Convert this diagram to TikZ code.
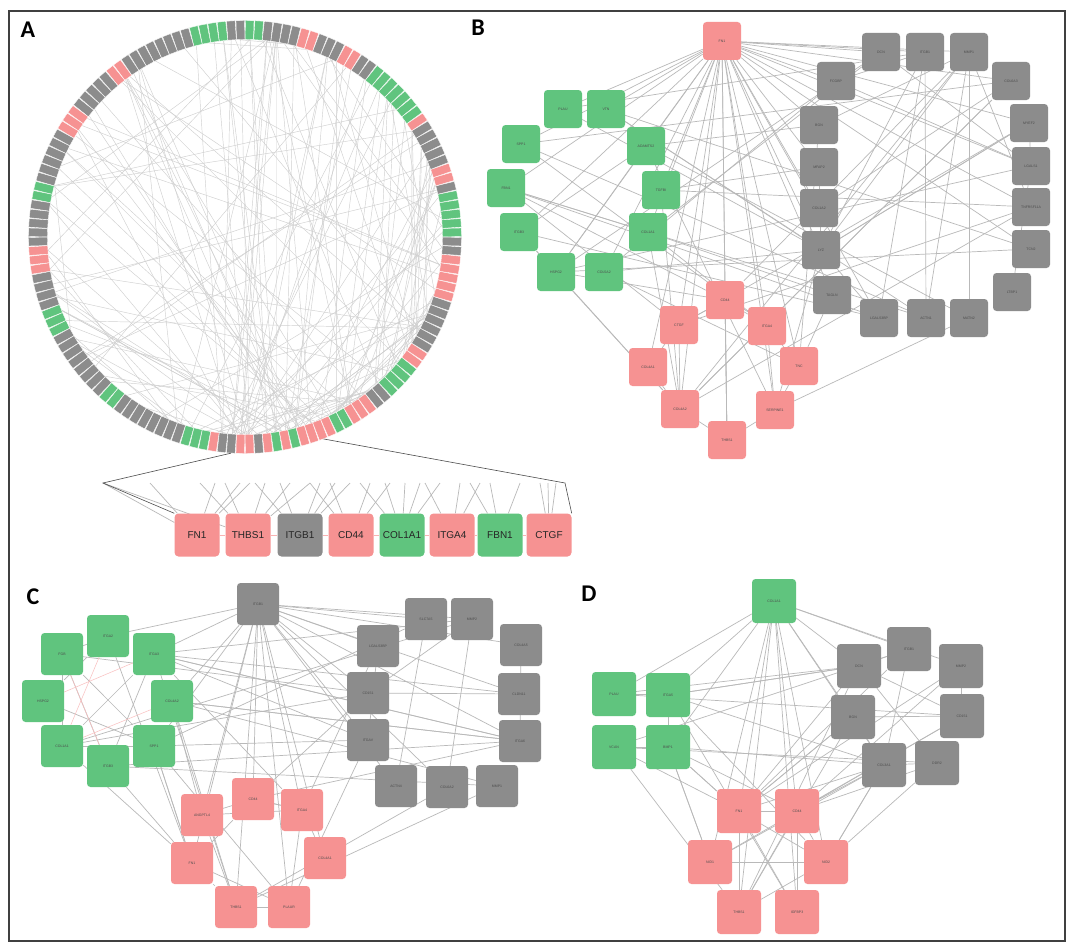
\documentclass[tikz,border=0pt]{standalone}
\usepackage{fontspec}
\setmainfont{Liberation Sans}
\newfontfamily\panelfont{Carlito}
\usetikzlibrary{backgrounds}
\definecolor{gnode}{RGB}{96,196,126}
\definecolor{pnode}{RGB}{246,146,146}
\definecolor{ynode}{RGB}{140,140,140}
\definecolor{edgeg}{RGB}{185,185,185}
\definecolor{edgea}{RGB}{208,208,208}
\pgfdeclarelayer{paper}
\pgfsetlayers{paper,background,main}
\tikzset{
  gene/.style={rectangle, rounded corners=3.5pt, minimum size=#1, inner sep=0pt,
    font=\fontsize{3.5}{4}\selectfont, text=black!70},
  gene/.default=38pt,
  ringbox/.style={rectangle, minimum width=19pt, minimum height=8.5pt, inner sep=0pt,
    draw=white, line width=0.35pt},
  netedge/.style={draw=edgeg, line width=0.7pt},
  ringedge/.style={draw=edgea, line width=0.45pt},
  stripbox/.style={rectangle, rounded corners=4pt, minimum width=45pt, minimum height=43pt,
    inner sep=0pt, font=\fontsize{10}{12}\selectfont, text=black!85},
  panellabel/.style={font=\panelfont\bfseries\fontsize{24}{24}\selectfont, inner sep=0pt},
  zoomline/.style={draw=black!70, line width=0.6pt}
}
\begin{document}
\begin{tikzpicture}[x=1pt,y=-1pt]
\useasboundingbox (0,0) rectangle (1070,942);
\begin{pgfonlayer}{paper}
  \fill[white] (0,0) rectangle (1070,942);
\end{pgfonlayer}

% ---------------- Panel A: circular network ----------------
\foreach \s/\e/\c in {0/4/gnode, 5/5/ynode, 6/7/pnode, 8/12/ynode, 13/13/pnode, 14/20/gnode,
  21/22/ynode, 23/24/pnode, 25/27/ynode, 28/29/pnode, 30/33/ynode, 34/35/gnode, 36/37/ynode,
  38/41/gnode, 42/49/ynode, 50/51/pnode, 52/56/ynode, 57/59/pnode, 60/65/ynode, 66/67/gnode,
  68/72/ynode, 73/75/pnode, 76/79/ynode, 80/82/gnode, 83/90/ynode, 91/92/gnode, 93/100/ynode,
  101/103/gnode, 104/104/pnode, 105/106/ynode, 107/108/pnode, 109/109/ynode, 110/110/pnode,
  111/111/gnode, 112/112/pnode, 113/113/gnode, 114/117/pnode, 118/119/gnode, 120/122/pnode,
  123/124/ynode, 125/128/gnode, 129/130/pnode, 131/136/ynode, 137/141/pnode, 142/143/ynode}{
  \foreach \i in {\s,...,\e}{
    \pgfmathsetmacro\ang{\i*2.5+1.25}
    \node[ringbox, fill=\c, rotate=\ang] (a\i) at ({245+207*cos(\ang)},{237-207*sin(\ang)}) {};
  }
}
\begin{pgfonlayer}{background}
  \pgfmathsetseed{11}
  \foreach \k in {1,...,85}{
    \pgfmathtruncatemacro\u{random(100,140)}
    \pgfmathtruncatemacro\v{random(0,143)}
    \draw[ringedge] (a\u) -- (a\v);
  }
  \foreach \k in {1,...,40}{
    \pgfmathtruncatemacro\u{random(105,116)}
    \pgfmathtruncatemacro\v{random(0,143)}
    \draw[ringedge] (a\u) -- (a\v);
  }
  \foreach \k in {1,...,30}{
    \pgfmathtruncatemacro\u{random(0,40)}
    \pgfmathtruncatemacro\v{random(60,143)}
    \draw[ringedge] (a\u) -- (a\v);
  }
  \foreach \k in {1,...,14}{
    \pgfmathtruncatemacro\u{random(0,143)}
    \pgfmathtruncatemacro\v{random(0,143)}
    \draw[ringedge] (a\u) -- (a\v);
  }
\end{pgfonlayer}

% enlarged strip of the lower arc
\foreach \n/\x/\c/\t in {1/197/pnode/FN1, 2/248/pnode/THBS1, 3/300/ynode/ITGB1, 4/351/pnode/CD44,
  5/402/gnode/COL1A1, 6/452/pnode/ITGA4, 7/500/gnode/FBN1, 8/549/pnode/CTGF}{
  \node[stripbox, fill=\c] (s\n) at (\x,535) {\t};
}
\coordinate (zl) at (103,483);
\coordinate (zr) at (565,483);
\begin{pgfonlayer}{background}
  \foreach \a/\b in {1/2,2/3,3/4,4/5,5/6,6/7,7/8}{
    \draw[draw=pnode!70, line width=0.5pt] (s\a) -- (s\b);
  }
  \foreach \n/\xt [count=\k] in {1/150, 1/215, 1/250, 1/240, 2/200, 2/225, 2/265, 2/290, 2/310,
    3/255, 3/280, 3/320, 3/335, 3/350, 4/310, 4/330, 4/370, 4/390, 5/360, 5/385, 5/405, 5/420,
    5/440, 6/425, 6/460, 6/480, 7/470, 7/490, 7/520, 8/540, 8/548, 8/556}{
    \coordinate (st\k) at (\xt,483);
    \draw[netedge] (s\n) -- (st\k);
  }
  \draw[netedge] (s1) -- (zl);
  \draw[netedge] (s2) -- (zl);
\end{pgfonlayer}
\draw[zoomline] (a106.east) -- (zl) -- (s1.north west);
\draw[zoomline] (a116.east) -- (zr) -- (s8.north east);

% ---------------- Panel B ----------------
\node[gene, fill=pnode] (b0) at (722,41) {FN1};
\foreach \n/\x/\y/\c/\t in {
  1/563/109/gnode/PLAU, 2/606/109/gnode/VTN, 3/521/144/gnode/SPP1, 4/646/146/gnode/ADAMTS2,
  5/506/188/gnode/FBN1, 6/661/190/gnode/TGFBI, 7/519/232/gnode/ITGB3, 8/648/232/gnode/COL1A1,
  9/556/272/gnode/HSPG2, 10/604/272/gnode/COL5A2,
  11/881/52/ynode/DCN, 12/925/52/ynode/ITGB1, 13/969/52/ynode/MMP1, 14/836/81/ynode/FCGBP,
  15/1011/81/ynode/COL6A3, 16/819/125/ynode/BGN, 17/1029/123/ynode/MYEF2, 18/819/167/ynode/MFAP2,
  19/1031/166/ynode/LGALS1, 20/819/208/ynode/COL1A2, 21/1031/207/ynode/TNFRSF11A,
  22/821/250/ynode/LYZ, 23/1031/249/ynode/TCN2, 24/832/295/ynode/TAGLN, 25/1012/292/ynode/LTBP1,
  26/879/318/ynode/LGALS3BP, 27/926/318/ynode/ACTN1, 28/969/318/ynode/MATN2,
  29/725/300/pnode/CD44, 30/679/325/pnode/CTGF, 31/767/326/pnode/ITGA4, 32/648/367/pnode/COL4A1,
  33/799/366/pnode/TNC, 34/680/409/pnode/COL4A2, 35/775/410/pnode/SERPINE1, 36/727/440/pnode/THBS1}{
  \node[gene, fill=\c] (b\n) at (\x,\y) {\t};
}
\begin{pgfonlayer}{background}
  \foreach \j in {1,2,3,4,5,6,7,8,9,10,11,12,13,14,15,16,17,18,19,20,21,22,23,24,26,
    29,30,31,32,33,34,35,36}{
    \draw[netedge] (b0) -- (b\j);
  }
  \pgfmathsetseed{5}
  \foreach \k in {1,...,60}{
    \pgfmathtruncatemacro\u{random(1,36)}
    \pgfmathtruncatemacro\v{random(1,36)}
    \draw[netedge] (b\u) -- (b\v);
  }
  \foreach \u/\v in {29/30,29/31,30/32,31/33,32/34,33/35,34/36,35/36,29/36,30/34,31/35,12/26,
    12/27,13/21,11/19,22/35,24/33,5/30,9/34}{
    \draw[netedge] (b\u) -- (b\v);
  }
\end{pgfonlayer}

% ---------------- Panel C ----------------
\node[gene=42pt, fill=ynode] (c0) at (258,604) {ITGB1};
\foreach \n/\x/\y/\c/\t in {
  1/108/636/gnode/ITGA2, 2/62/654/gnode/FGB, 3/154/654/gnode/ITGA3, 4/43/701/gnode/HSPG2,
  5/172/701/gnode/COL4A2, 6/62/746/gnode/COL1A1, 7/154/746/gnode/SPP1, 8/108/766/gnode/ITGB3,
  9/202/815/pnode/ANGPTL4, 10/253/799/pnode/CD44, 11/302/810/pnode/ITGA4, 12/192/863/pnode/FN1,
  13/325/858/pnode/COL4A1, 14/236/907/pnode/THBS1, 15/289/907/pnode/PLAUR,
  16/426/619/ynode/SLC7A5, 17/472/619/ynode/MMP2, 18/378/646/ynode/LGALS3BP, 19/521/645/ynode/COL4A5,
  20/368/693/ynode/CD151, 21/519/694/ynode/CLDN11, 22/368/740/ynode/ITGAV, 23/520/741/ynode/ITGA6,
  24/396/786/ynode/ACTN4, 25/447/787/ynode/COL6A2, 26/497/786/ynode/MMP1}{
  \node[gene=42pt, fill=\c] (c\n) at (\x,\y) {\t};
}
\begin{pgfonlayer}{background}
  \foreach \j in {1,3,5,7,9,10,11,12,13,14,15,16,17,18,19,20,21,22,23,24,25}{
    \draw[netedge] (c0) -- (c\j);
  }
  \pgfmathsetseed{8}
  \foreach \k in {1,...,45}{
    \pgfmathtruncatemacro\u{random(1,26)}
    \pgfmathtruncatemacro\v{random(1,26)}
    \draw[netedge] (c\u) -- (c\v);
  }
  \foreach \u/\v in {8/12,7/12,6/12,9/10,10/11,11/13,12/14,14/15,10/12,11/15,9/14,3/8,2/7}{
    \draw[netedge] (c\u) -- (c\v);
  }
  \foreach \u/\v in {1/6,4/3,2/8,6/5}{
    \draw[draw=pnode!60, line width=0.5pt] (c\u) -- (c\v);
  }
\end{pgfonlayer}

% ---------------- Panel D ----------------
\node[gene=44pt, fill=gnode] (d0) at (774,601) {COL1A1};
\foreach \n/\x/\y/\c/\t in {
  1/909/649/ynode/ITGB1, 2/859/666/ynode/DCN, 3/961/666/ynode/MMP2, 4/853/717/ynode/BGN,
  5/962/716/ynode/CD151, 6/884/765/ynode/COL3A1, 7/937/763/ynode/DDR2,
  8/614/694/gnode/PLAU, 9/668/695/gnode/ITGA5, 10/614/747/gnode/VCAN, 11/668/747/gnode/BMP1,
  12/739/811/pnode/FN1, 13/797/811/pnode/CD44, 14/710/862/pnode/NID1, 15/826/862/pnode/NID2,
  16/739/912/pnode/THBS1, 17/797/912/pnode/IGFBP3}{
  \node[gene=44pt, fill=\c] (d\n) at (\x,\y) {\t};
}
\begin{pgfonlayer}{background}
  \foreach \j in {1,2,3,4,6,8,9,11,12,13,14,15,16,17}{
    \draw[netedge] (d0) -- (d\j);
  }
  \pgfmathsetseed{4}
  \foreach \k in {1,...,40}{
    \pgfmathtruncatemacro\u{random(1,17)}
    \pgfmathtruncatemacro\v{random(1,17)}
    \draw[netedge] (d\u) -- (d\v);
  }
  \foreach \u/\v in {12/13,12/16,13/17,12/17,13/16,8/9,10/11,9/11,6/12,6/13,6/15,3/13,3/12,4/12,
    5/13,2/16,9/6,11/6}{
    \draw[netedge] (d\u) -- (d\v);
  }
\end{pgfonlayer}

% ---------------- labels and frame ----------------
\node[panellabel] (la) at (28,30) {A};
\node[panellabel] (lb) at (478,28) {B};
\node[panellabel] (lc) at (33,597) {C};
\node[panellabel] (ld) at (589,594) {D};
\draw[line width=1.6pt, black!75] (9,11) rectangle (1065,941);
\end{tikzpicture}
\end{document}
